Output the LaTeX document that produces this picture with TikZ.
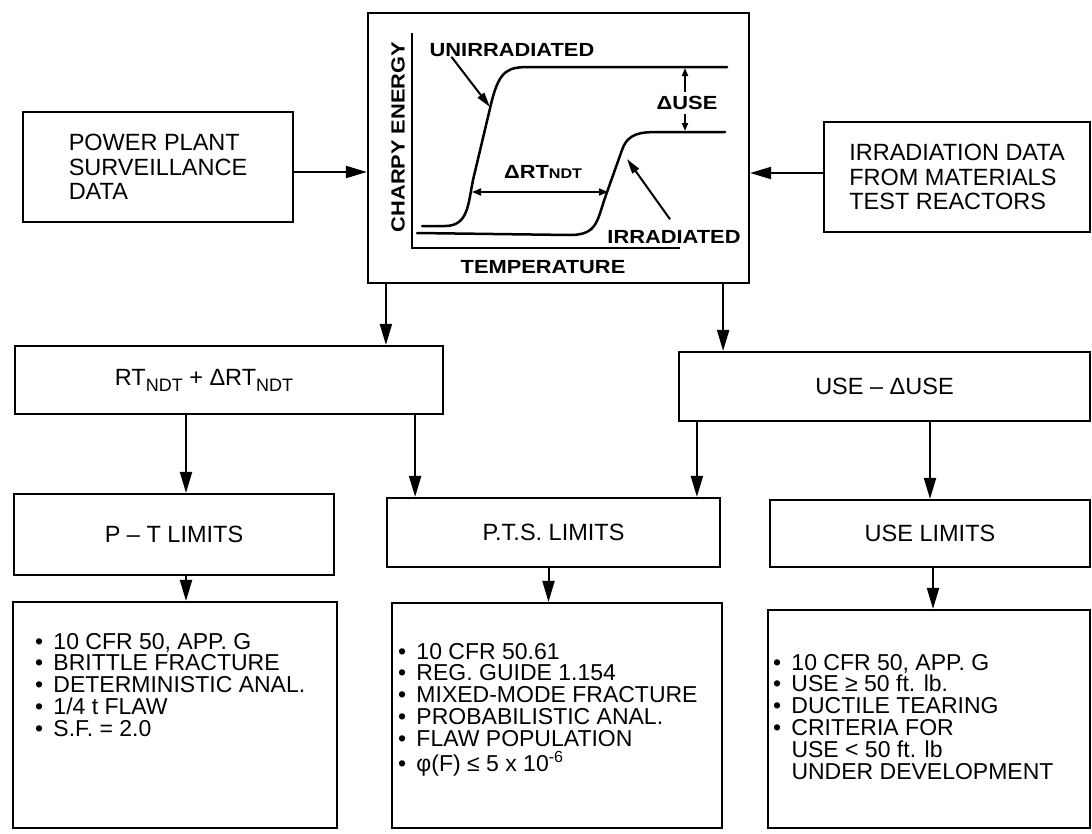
\documentclass[tikz,border=0pt]{standalone}
\usepackage{fontspec}
\setmainfont{Liberation Sans}
\newfontfamily\chartfont{Liberation Sans}[FakeStretch=1.15]
\usepackage{tikz}
\usetikzlibrary{arrows.meta, positioning}
\newcommand{\bul}{\textbullet\hspace{0.45em}}
\newcommand{\ind}{\hspace*{0.8em}}
\newcommand{\lowsub}[1]{\raisebox{-6pt}{\fontsize{18}{18}\selectfont #1}}

\begin{document}
\begin{tikzpicture}[
    x=1pt, y=-1pt,
    font=\fontsize{23.5}{24.5}\selectfont,
    blk/.style={draw, line width=2.2pt, inner sep=0pt},
    srcbox/.style={blk, align=left, minimum height=110pt},
    valbox/.style={blk, minimum height=68pt},
    lsttext/.style={inner sep=0pt, align=left, font=\fontsize{23}{21.8}\selectfont},
    chartlbl/.style={inner sep=0pt, font=\chartfont\bfseries\fontsize{19}{19}\selectfont},
    curve/.style={line width=2.5pt, line join=round, line cap=round},
    arr/.style={-{Triangle[length=21pt, width=12pt]}, line width=2pt},
    ptr/.style={-{Triangle[length=15pt, width=8pt]}, line width=2pt},
    dim/.style={{Triangle[length=9pt, width=7pt]}-{Triangle[length=9pt, width=7pt]}, line width=1.8pt}
]
    \useasboundingbox (0,0) rectangle (1092,833);

    \node[blk, minimum width=381pt, minimum height=270pt] (chart) at (558.5,148) {};
    \node[srcbox, minimum width=270pt] (plant) at (158,167) {POWER PLANT\\SURVEILLANCE\\DATA};
    \node[srcbox, minimum width=266pt] (mtr) at (957,177) {IRRADIATION DATA\\FROM MATERIALS\\TEST REACTORS};

    \draw[line width=2pt] (412,33) -- (412,248) -- (680,248);
    \draw[curve] (422,226) -- (445,226) .. controls (468,226) and (468,205) .. (473,180) -- (492,100) .. controls (500,70) and (508,67) .. (530,67) -- (727,67);
    \draw[curve] (417,233) -- (570,235) .. controls (598,235) and (597,220) .. (606,195) -- (622,150) .. controls (628,133) and (640,132) .. (660,132) -- (725,132);

    \node[chartlbl, rotate=90] (energy) at (398,137) {CHARPY ENERGY};
    \node[chartlbl] (temp) at (543,267) {TEMPERATURE};
    \node[chartlbl] (unirr) at (512,50) {UNIRRADIATED};
    \node[chartlbl] (irr) at (674,237) {IRRADIATED};
    \node[chartlbl] (duse) at (687,103) {ΔUSE};
    \node[chartlbl] (drt) at (543,172) {ΔRT{\fontsize{14}{14}\selectfont NDT}};

    \coordinate (utip) at (490,107);
    \coordinate (itip) at (627,159);
    \coordinate (uplat) at (700,68);
    \coordinate (lowplat) at (700,131);
    \coordinate (rtl) at (472,192);
    \coordinate (rtr) at (608,192);

    \draw[ptr] ([xshift=22pt]unirr.south west) -- (utip);
    \draw[ptr] ([xshift=-4pt, yshift=11pt]irr.north) -- (itip);
    \draw[-{Triangle[length=8pt, width=6pt]}, line width=1.8pt] ([xshift=-2pt, yshift=4pt]duse.north) -- ([xshift=-2pt]duse.north |- uplat);
    \draw[-{Triangle[length=8pt, width=6pt]}, line width=1.8pt] ([xshift=-2pt, yshift=-4pt]duse.south) -- ([xshift=-2pt]duse.south |- lowplat);
    \draw[dim] (rtl) -- (rtr);

    \draw[arr] ([yshift=-5pt]plant.east) -- ([yshift=-5pt]plant.east -| chart.west);
    \draw[arr] ([yshift=4pt]mtr.west) -- ([yshift=4pt]mtr.west -| chart.east);

    \node[valbox, minimum width=428pt] (rtndt) at (229,380) {\hspace*{-50pt}RT\lowsub{NDT} + ΔRT\lowsub{NDT}};
    \node[valbox, minimum width=411pt, minimum height=69pt] (use) at (884.5,386.5) {USE – ΔUSE};

    \node[valbox, minimum width=320pt, minimum height=81pt] (ptlim) at (174,534.5) {P – T LIMITS};
    \node[valbox, minimum width=333pt, minimum height=69pt] (ptslim) at (553.5,532.5) {P.T.S. LIMITS};
    \node[valbox, minimum width=320pt, minimum height=67pt] (uselim) at (930,533.5) {USE LIMITS};

    \draw[arr] ([xshift=19pt]chart.south west) -- ([xshift=19pt]chart.south west |- rtndt.north);
    \draw[arr] ([xshift=-27pt]chart.south east) -- ([xshift=-27pt]chart.south east |- use.north);
    \draw[arr] ([xshift=12pt]ptlim.north |- rtndt.south) -- ([xshift=12pt]ptlim.north);
    \draw[arr] ([xshift=-29pt]rtndt.south east) -- ([xshift=-29pt]rtndt.south east |- ptslim.north);
    \draw[arr] ([xshift=19pt]use.south west) -- ([xshift=19pt]use.south west |- ptslim.north);
    \draw[arr] (uselim.north |- use.south) -- (uselim.north);

    \node[blk, minimum width=324pt, minimum height=226pt] (ptlst) at (175,715) {};
    \node[blk, minimum width=330pt, minimum height=225pt] (ptslst) at (557,715.5) {};
    \node[blk, minimum width=322pt, minimum height=218pt] (uselst) at (929,719) {};

    \node[lsttext, below right=32pt and 23pt of ptlst.north west] (pttext)
        {\bul 10 CFR 50, APP. G\\\bul BRITTLE FRACTURE\\\bul DETERMINISTIC ANAL.\\\bul 1/4 t FLAW\\\bul S.F. = 2.0};
    \node[lsttext, below right=41pt and 7pt of ptslst.north west] (ptstext)
        {\bul 10 CFR 50.61\\\bul REG. GUIDE 1.154\\\bul MIXED-MODE FRACTURE\\\bul PROBABILISTIC ANAL.\\\bul FLAW POPULATION\\[3pt]\bul φ(F) ≤ 5 x 10\textsuperscript{-6}};
    \node[lsttext, below right=45pt and 6pt of uselst.north west] (usetext)
        {\bul 10 CFR 50, APP. G\\\bul USE ≥ 50 ft. lb.\\\bul DUCTILE TEARING\\\bul CRITERIA FOR\\\ind USE < 50 ft. lb\\\ind UNDER DEVELOPMENT};

    \draw[arr] ([xshift=12pt]ptlim.south) -- ([xshift=12pt]ptlim.south |- ptlst.north);
    \draw[arr] ([xshift=-5pt]ptslim.south) -- ([xshift=-5pt]ptslim.south |- ptslst.north);
    \draw[arr] ([xshift=3pt]uselim.south) -- ([xshift=3pt]uselim.south |- uselst.north);
\end{tikzpicture}
\end{document}
